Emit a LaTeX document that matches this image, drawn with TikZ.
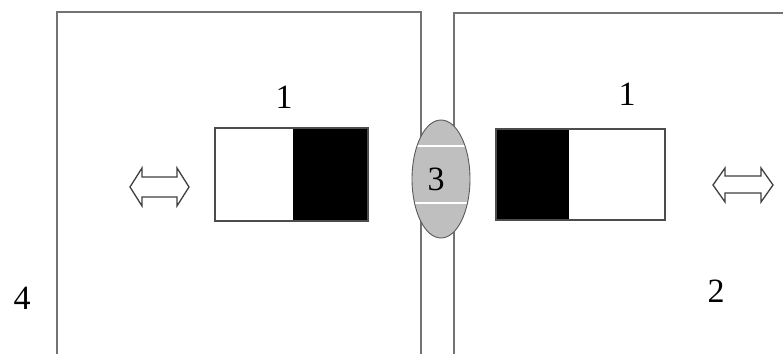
\documentclass[tikz,border=0pt]{standalone}
\usepackage{fontspec}
\setmainfont{Liberation Serif}
\begin{document}
\begin{tikzpicture}[x=1pt,y=-1pt,
  frame/.style={draw=black!55,line width=1.6pt},
  part/.style={draw=black!70,line width=1.2pt},
  lbl/.style={font=\fontsize{34}{38}\selectfont,inner sep=0pt},
  dblarrow/.style={draw=black!75,line width=1.3pt,fill=white,line join=miter}]
\useasboundingbox (0,0) rectangle (783,353);
\fill[white] (0,0) rectangle (783,353);
% outer frames
\draw[frame] (57,354) -- (57,12) -- (421,12) -- (421,354);
\draw[frame] (454,354) -- (454,13) -- (785,13);
% left part
\fill[white] (215,128) rectangle (293,221);
\fill[black] (293,128) rectangle (368,221);
\draw[part] (215,128) rectangle (368,221);
% right part
\fill[black] (496,129) rectangle (569,220);
\fill[white] (569,129) rectangle (665,220);
\draw[part] (496,129) rectangle (665,220);
% contact ellipse
\begin{scope}
\clip (441,179) ellipse [x radius=29, y radius=59];
\fill[black!25] (441,179) ellipse [x radius=29, y radius=59];
\draw[white,line width=1.4pt] (400,146) -- (480,146);
\draw[white,line width=1.4pt] (400,203) -- (480,203);
\end{scope}
\draw[black!65,line width=0.9pt] (441,179) ellipse [x radius=29, y radius=59];
% double arrows
\draw[dblarrow] (130,187) -- (142,168) -- (142,177) -- (177,177) -- (177,168) -- (189,187)
  -- (177,206) -- (177,197) -- (142,197) -- (142,206) -- cycle;
\draw[dblarrow] (713,185) -- (725,168) -- (725,176) -- (761,176) -- (761,168) -- (773,185)
  -- (761,202) -- (761,193) -- (725,193) -- (725,202) -- cycle;
% labels
\node[lbl] (l1a) at (284,97) {1};
\node[lbl] (l1b) at (627,94) {1};
\node[lbl] (l3) at (436,179) {3};
\node[lbl] (l2) at (716,291) {2};
\node[lbl] (l4) at (22,298) {4};
\end{tikzpicture}
\end{document}
